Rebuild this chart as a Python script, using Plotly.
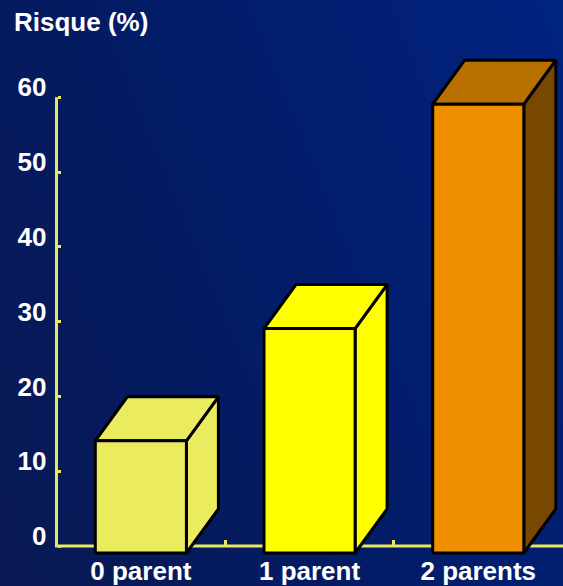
import numpy as np
import plotly.graph_objects as go

# Data
categories = ["0 parent", "1 parent", "2 parents"]
risk = [15, 30, 60]
y_ticks = [0, 10, 20, 30, 40, 50, 60]

# Bar face colours: front, top, side
front_colors = ["#EBEB60", "#FFFF00", "#F09000"]
top_colors = ["#EBEB60", "#FFFF00", "#B87000"]
side_colors = ["#EBEB60", "#FFFF00", "#794800"]

W, H = 563, 586
axis_x_px = 56.5          # pixel column of the value axis
zero_px = 546.0           # pixel row of value 0
px_per_unit_y = 7.48
px_per_cat = 168.7

# Axis ranges chosen so the plot area fills the whole page
x0 = -0.5 - axis_x_px / px_per_cat
x1 = x0 + W / px_per_cat
y0 = (zero_px - H) / px_per_unit_y
y1 = zero_px / px_per_unit_y

bar_w = 0.54                       # front face width (category units)
depth_x = 32 / px_per_cat          # 3-D depth offset
depth_y = 44 / px_per_unit_y
floor = -7 / px_per_unit_y         # front faces sit slightly in front of the axis

axis_color = "#E8E85C"
fig = go.Figure()

# Background gradient
gx = np.linspace(x0, x1, 30)
gy = np.linspace(y0, y1, 30)
GX, GY = np.meshgrid((gx - x0) / (x1 - x0), (gy - y0) / (y1 - y0))
fig.add_trace(go.Heatmap(
    x=gx, y=gy, z=0.7 * GX + 0.3 * GY, zsmooth="best", showscale=False,
    colorscale=[[0, "#081852"], [0.5, "#031c68"], [1, "#002380"]],
    hoverinfo="skip"))

# Axis lines (drawn beneath the bars)
fig.add_trace(go.Scatter(
    x=[-0.5, -0.5, x1], y=[y_ticks[-1], 0, 0], mode="lines",
    line=dict(color=axis_color, width=3), hoverinfo="skip", showlegend=False))

def face(xs, ys, color):
    fig.add_trace(go.Scatter(
        x=xs, y=ys, mode="lines", fill="toself", fillcolor=color,
        line=dict(color="black", width=3), hoverinfo="skip", showlegend=False))

for i, v in enumerate(risk):
    xl, xr = i - bar_w / 2, i + bar_w / 2
    yb, yt = floor, floor + v
    # side face
    face([xr, xr + depth_x, xr + depth_x, xr, xr],
         [yb, yb + depth_y, yt + depth_y, yt, yb], side_colors[i])
    # top face
    face([xl, xl + depth_x, xr + depth_x, xr, xl],
         [yt, yt + depth_y, yt + depth_y, yt, yt], top_colors[i])
    # front face
    face([xl, xr, xr, xl, xl], [yb, yb, yt, yt, yb], front_colors[i])

tick_font = dict(family="Liberation Sans, Arial, sans-serif", size=26,
                 color="white", weight="bold")

fig.update_layout(
    width=W, height=H,
    margin=dict(l=0, r=0, t=0, b=0),
    paper_bgcolor="#061a5a", plot_bgcolor="rgba(0,0,0,0)",
    showlegend=False,
    xaxis=dict(range=[x0, x1], domain=[0, 1], anchor="free",
               position=(H - zero_px) / H,
               tickmode="array", tickvals=list(range(len(categories))),
               ticktext=categories, ticks="", tickfont=tick_font,
               ticklabelstandoff=7,
               minor=dict(tickmode="array", tickvals=[0.5, 1.5],
                          ticks="inside", ticklen=6, tickwidth=2.5,
                          tickcolor=axis_color, showgrid=False),
               showgrid=False, zeroline=False, showline=False),
    yaxis=dict(range=[y0, y1], domain=[0, 1], anchor="free",
               position=axis_x_px / W,
               tickmode="array", tickvals=y_ticks, ticks="inside",
               ticklen=3, tickwidth=2.5, tickcolor=axis_color,
               tickfont=tick_font, ticklabelshift=-10,
               ticklabelstandoff=10,
               showgrid=False, zeroline=False, showline=False),
    annotations=[dict(text="Risque (%)", xref="paper", yref="paper",
                      x=12 / W, y=1 - 22 / H, xanchor="left",
                      yanchor="middle", showarrow=False, font=tick_font)],
)

fig.write_html("out.html")
